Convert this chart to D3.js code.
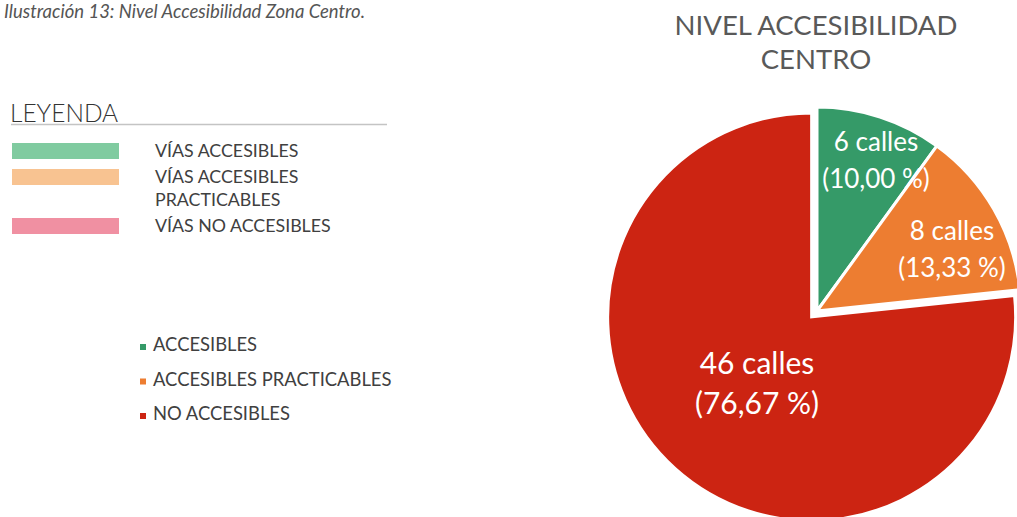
<!DOCTYPE html>
<html><head><meta charset="utf-8">
<script src="https://cdn.jsdelivr.net/npm/d3@7"></script>
<style>body{margin:0;background:#fff}svg{display:block}</style>
</head><body>
<svg id="c" width="1017" height="517"></svg>
<script>
const categories = ["ACCESIBLES", "ACCESIBLES PRACTICABLES", "NO ACCESIBLES"];
const values = [6, 8, 46];
const labels = ["6 calles|(10,00 %)", "8 calles|(13,33 %)", "46 calles|(76,67 %)"];
const sliceColors = ["#359A68", "#ED7D31", "#CC2412"];
const legendItems = ["VÍAS ACCESIBLES", "VÍAS ACCESIBLES|PRACTICABLES", "VÍAS NO ACCESIBLES"];
const legendColors = ["#80CBA0", "#F8C391", "#F090A2"];

const FONT = "Lato, 'Open Sans', sans-serif";
const svg = d3.select("#c");

// caption
svg.append("text").attr("x", 4).attr("y", 18)
  .attr("font-family", FONT).attr("font-style", "italic")
  .attr("font-size", 18.5).attr("fill", "#555")
  .text("Ilustración 13: Nivel Accesibilidad Zona Centro.");

// LEYENDA
svg.append("text").attr("x", 10).attr("y", 122)
  .attr("font-family", FONT).attr("font-weight", 300)
  .attr("font-size", 24.5).attr("fill", "#333").text("LEYENDA");
svg.append("line").attr("x1", 11).attr("x2", 387).attr("y1", 124.5).attr("y2", 124.5)
  .attr("stroke", "#c4c4c4").attr("stroke-width", 1.5);

const boxY = [143, 169, 218];
const textY = [[157], [183, 206], [232]];
legendItems.forEach((t, i) => {
  svg.append("rect").attr("x", 12).attr("y", boxY[i]).attr("width", 107).attr("height", 16)
    .attr("fill", legendColors[i]);
  t.split("|").forEach((line, j) => {
    svg.append("text").attr("x", 155).attr("y", textY[i][j])
      .attr("font-family", FONT).attr("font-size", 17.8).attr("fill", "#404040").text(line);
  });
});

// chart legend
const lgY = d3.scalePoint().domain(categories).range([351, 420]);
categories.forEach((c, i) => {
  svg.append("rect").attr("x", 140).attr("y", lgY(c) - 7).attr("width", 6).attr("height", 6)
    .attr("fill", sliceColors[i]);
  svg.append("text").attr("x", 153).attr("y", lgY(c))
    .attr("font-family", FONT).attr("font-size", 18.4).attr("fill", "#404040").text(c);
});

// title
svg.append("text").attr("x", 816).attr("y", 35).attr("text-anchor", "middle")
  .attr("font-family", FONT).attr("font-size", 27.5).attr("fill", "#595959").text("NIVEL ACCESIBILIDAD");
svg.append("text").attr("x", 816).attr("y", 69).attr("text-anchor", "middle")
  .attr("font-family", FONT).attr("font-size", 27.5).attr("fill", "#595959").text("CENTRO");

// pie
const cx = 817, cy = 311, R = 204;
const pie = d3.pie().sort(null).value(d => d)(values);
const arc = d3.arc().innerRadius(0).outerRadius(R);
const explode = [0, 0, 8];
const g = svg.append("g").attr("transform", `translate(${cx},${cy})`);
pie.forEach((p, i) => {
  const mid = (p.startAngle + p.endAngle) / 2;
  const dx = Math.sin(mid) * explode[i], dy = -Math.cos(mid) * explode[i];
  const sg = g.append("g").attr("transform", `translate(${dx},${dy})`);
  sg.append("path").attr("d", arc(p)).attr("fill", sliceColors[i])
    .attr("stroke", "#fff").attr("stroke-width", 3).attr("stroke-linejoin", "miter");
});

// labels
const labelPos = [[59, -160, 26, 37], [135, -71, 26, 37], [-60, 63, 30, 40]];
pie.forEach((p, i) => {
  const [lx, ly, fs, lh] = labelPos[i];
  labels[i].split("|").forEach((line, j) => {
    g.append("text").attr("x", lx).attr("y", ly + j * lh).attr("text-anchor", "middle")
      .attr("font-family", FONT).attr("font-size", fs).attr("fill", "#fff").text(line);
  });
});
</script>
</body></html>
